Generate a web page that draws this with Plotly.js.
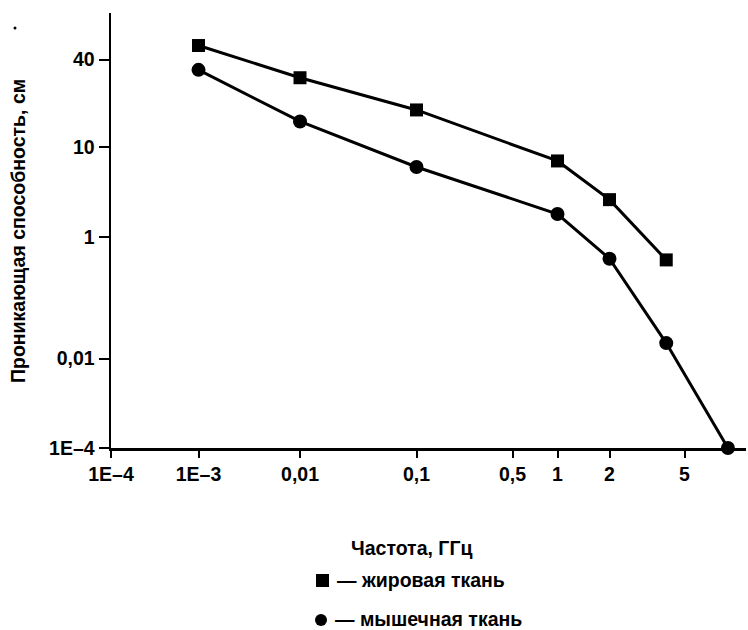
<!DOCTYPE html>
<html>
<head>
<meta charset="utf-8">
<script src="https://cdn.plot.ly/plotly-3.0.1.min.js"></script>
<style>html,body{margin:0;padding:0;background:#fff;}#chart{width:748px;height:630px;}</style>
</head>
<body>
<div id="chart"></div>
<script>
// ---- data (frequency in GHz, penetration depth in cm) ----
const fatFreq = [0.001, 0.01, 0.1, 1, 2, 4];
const fatDepth = [50, 30, 18, 7, 2.6, 0.42];
const muscleFreq = [0.001, 0.01, 0.1, 1, 2, 4, 8.5];
const muscleDepth = [34, 15, 6, 1.8, 0.44, 0.018, 0.0001];

const xTickVals = [0.0001, 0.001, 0.01, 0.1, 0.5, 1, 2, 5];
const xTickText = ['1E\u20134', '1E\u20133', '0,01', '0,1', '0,5', '1', '2', '5'];
const yTickVals = [0.0001, 0.01, 1, 10, 40];
const yTickText = ['1E\u20134', '0,01', '1', '10', '40'];

// ---- axis layout: the original uses an irregular scale, each tick at its own place ----
const xTickPos = [0, 87.5, 189, 305.5, 401.5, 446.5, 498.5, 573.5];
const yTickPos = [0, 89.4, 211, 301, 388.4];

function mapScale(v, vals, pos) {
  const lv = Math.log10(v);
  const lvals = vals.map(Math.log10);
  let i = 0;
  while (i < lvals.length - 2 && lv > lvals[i + 1]) i++;
  const t = (lv - lvals[i]) / (lvals[i + 1] - lvals[i]);
  return pos[i] + t * (pos[i + 1] - pos[i]);
}
const mx = v => mapScale(v, xTickVals, xTickPos);
const my = v => mapScale(v, yTickVals, yTickPos);

const FONT = 'Liberation Sans, Arial, sans-serif';

const traces = [
  {
    x: fatFreq.map(mx), y: fatDepth.map(my),
    mode: 'lines+markers', type: 'scatter', cliponaxis: false,
    line: {color: '#000', width: 3},
    marker: {symbol: 'square', size: 13, color: '#000'},
    hoverinfo: 'skip'
  },
  {
    x: muscleFreq.map(mx), y: muscleDepth.map(my),
    mode: 'lines+markers', type: 'scatter', cliponaxis: false,
    line: {color: '#000', width: 3},
    marker: {symbol: 'circle', size: 14, color: '#000'},
    hoverinfo: 'skip'
  }
];

const PL = 111, PT = 13, PB = 182, PR = 2;
const PW = 748 - PL - PR, PH = 630 - PT - PB;
const px = X => (X - PL) / PW;
const py = Y => (630 - PB - Y) / PH;

const tickFont = {family: FONT, size: 19.5, color: '#000', weight: 'bold'};
const titleFont = {family: FONT, size: 19.5, color: '#000', weight: 'bold'};

const layout = {
  width: 748, height: 630,
  margin: {l: PL, r: PR, t: PT, b: PB, pad: 0},
  paper_bgcolor: '#fff', plot_bgcolor: '#fff',
  showlegend: false,
  font: {family: FONT, size: 18, color: '#000'},
  xaxis: {
    range: [0, PW], fixedrange: true,
    tickmode: 'array', tickvals: xTickVals.map(mx), ticktext: xTickText,
    ticks: 'outside', ticklen: 7, tickwidth: 2, tickcolor: '#000',
    showline: true, linewidth: 2.5, linecolor: '#000',
    showgrid: false, zeroline: false,
    tickfont: tickFont
  },
  yaxis: {
    range: [0, PH], fixedrange: true,
    tickmode: 'array', tickvals: yTickVals.map(my), ticktext: yTickText,
    ticks: 'outside', ticklen: 10, tickwidth: 2, tickcolor: '#000',
    showline: true, linewidth: 2.5, linecolor: '#000',
    showgrid: false, zeroline: false,
    tickfont: tickFont
  },
  annotations: [
    {xref: 'paper', yref: 'paper', x: px(18), y: py(231), text: 'Проникающая способность, см',
     textangle: -90, showarrow: false, xanchor: 'center', yanchor: 'middle', font: titleFont},
    {xref: 'paper', yref: 'paper', x: px(411), y: py(548), text: 'Частота, ГГц',
     showarrow: false, xanchor: 'center', yanchor: 'middle', font: titleFont},
    {xref: 'paper', yref: 'paper', x: px(335), y: py(580), text: '— жировая ткань',
     showarrow: false, xanchor: 'left', yanchor: 'middle', font: titleFont},
    {xref: 'paper', yref: 'paper', x: px(333), y: py(619), text: '— мышечная ткань',
     showarrow: false, xanchor: 'left', yanchor: 'middle', font: titleFont}
  ],
  shapes: [
    {type: 'rect', xref: 'paper', yref: 'paper', x0: px(316), x1: px(329), y0: py(587), y1: py(574),
     fillcolor: '#000', line: {width: 0}},
    {type: 'circle', xref: 'paper', yref: 'paper', x0: px(315), x1: px(327), y0: py(626), y1: py(614),
     fillcolor: '#000', line: {width: 0}},
    {type: 'circle', xref: 'paper', yref: 'paper', x0: px(13.5), x1: px(16.5), y0: py(29.5), y1: py(26.5),
     fillcolor: '#000', line: {width: 0}}
  ]
};

Plotly.newPlot('chart', traces, layout, {staticPlot: true, displayModeBar: false});
</script>
</body>
</html>
